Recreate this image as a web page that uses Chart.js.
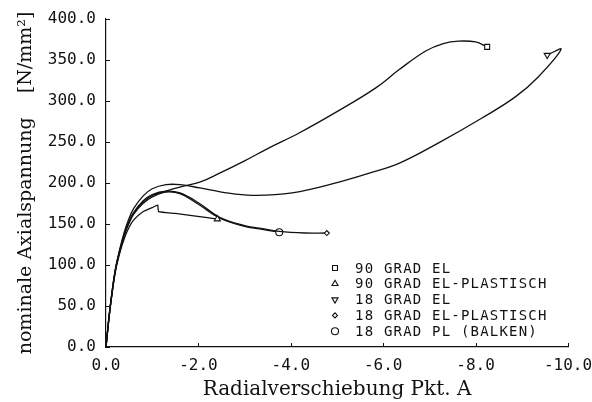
<!DOCTYPE html>
<html>
<head>
<meta charset="utf-8">
<script src="https://cdn.jsdelivr.net/npm/chart.js@4.4.0/dist/chart.umd.min.js"></script>
<style>
    html, body { margin: 0; padding: 0; background: #fff; }
    #chart_div { width: 592px; height: 402px; }
</style>
</head>
<body>
<div id="chart_div"><canvas id="chart_cnv" width="592" height="402"></canvas></div>
<script>
// series (x: radial displacement, y: nominal axial stress)
const series_names = ["90 GRAD EL", "90 GRAD EL-PLASTISCH", "18 GRAD EL", "18 GRAD EL-PLASTISCH", "18 GRAD PL (BALKEN)"];

const grad90_el_x = [0, -0.05, -0.1, -0.2, -0.3, -0.4, -0.5, -0.6, -0.8, -1.0, -1.3, -1.6, -2.03, -2.46, -3.0, -3.5, -4.18, -5.0, -5.84, -6.34, -6.92, -7.3, -7.63, -8.0, -8.25];
const grad90_el_y = [0, 28, 52, 92, 117, 137, 151, 162, 175, 183, 190, 195, 201, 212, 227, 242, 261, 287, 316, 338, 361, 370, 373, 372, 366];

const grad90_pl_x = [0, -0.05, -0.1, -0.2, -0.3, -0.4, -0.5, -0.6, -0.8, -1.0, -1.12, -1.14, -1.5, -1.9, -2.41];
const grad90_pl_y = [0, 28, 52, 91, 115, 133, 146, 155, 165, 170, 173, 165, 163, 160, 156];

const grad18_el_x = [0, -0.05, -0.1, -0.2, -0.3, -0.4, -0.5, -0.6, -0.8, -1.0, -1.3, -1.6, -2.03, -2.5, -3.17, -4.03, -5.04, -5.7, -6.34, -7.2, -8.13, -8.86, -9.35, -9.85, -9.55];
const grad18_el_y = [0, 29, 54, 94, 120, 141, 157, 169, 184, 193, 198, 198, 194, 189, 185, 188, 201, 212, 224, 249, 279, 305, 329, 363, 356];

const grad18_pl_x = [0, -0.05, -0.1, -0.2, -0.3, -0.4, -0.5, -0.6, -0.8, -1.0, -1.3, -1.6, -2.0, -2.46, -3.0, -3.32, -3.75, -4.3, -4.78];
const grad18_pl_y = [0, 28, 53, 93, 118, 138, 153, 164, 178, 186, 190, 188, 176, 158, 148, 145, 141, 139, 139];

const balken_x = [0, -0.05, -0.1, -0.2, -0.3, -0.4, -0.5, -0.6, -0.8, -1.0, -1.3, -1.6, -2.0, -2.46, -3.0, -3.32, -3.75];
const balken_y = [0, 28, 53, 93, 118, 138, 153, 164, 177, 185, 189, 187, 174, 157, 147, 144, 140];

const marker_styles = ["rect", "triangle", "triangle", "rectRot", "circle"];
const marker_rotations = [0, 0, 180, 0, 0];
const marker_sizes = [3.5, 3.5, 3.5, 2.5, 3.5];

const x_tick_values = [0, -2, -4, -6, -8, -10];
const y_tick_values = [0, 50, 100, 150, 200, 250, 300, 350, 400];

const all_x = [grad90_el_x, grad90_pl_x, grad18_el_x, grad18_pl_x, balken_x];
const all_y = [grad90_el_y, grad90_pl_y, grad18_el_y, grad18_pl_y, balken_y];
const tensions = [0.4, 0.15, 0.4, 0.4, 0.4];

const plot_font = '"DejaVu Sans Mono", monospace';
const title_font = '"DejaVu Serif", serif';

let datasets = [];
for (let i = 0; i < series_names.length; i++) {
    let points = [];
    for (let k = 0; k < all_x[i].length; k++) {
        points.push({x: all_x[i][k], y: all_y[i][k]});
    }
    const last = points.length - 1;
    datasets.push({
        "label": series_names[i],
        "data": points,
        "showLine": true,
        "borderColor": "#111",
        "borderWidth": 1.3,
        "tension": tensions[i],
        "pointStyle": marker_styles[i],
        "pointRotation": marker_rotations[i],
        "pointRadius": function (ctx) { return ctx.dataIndex === last ? marker_sizes[i] : 0; },
        "pointBackgroundColor": "#fff",
        "pointBorderColor": "#111",
        "pointBorderWidth": 1.1
    });
}

// small inward ticks on both axes and the legend inside the plot
const axis_decor_plugin = {
    id: "axis_decor",
    afterDraw(chart) {
        const ctx = chart.ctx;
        const x_scale = chart.scales.x;
        const y_scale = chart.scales.y;
        ctx.save();
        ctx.strokeStyle = "#111";
        ctx.lineWidth = 1;
        y_tick_values.forEach(function (v) {
            const py = Math.round(y_scale.getPixelForValue(v)) + 0.5;
            ctx.beginPath();
            ctx.moveTo(x_scale.left, py);
            ctx.lineTo(x_scale.left + 4, py);
            ctx.stroke();
        });
        x_tick_values.forEach(function (v) {
            const px = Math.round(x_scale.getPixelForValue(v)) + 0.5;
            ctx.beginPath();
            ctx.moveTo(px, y_scale.bottom);
            ctx.lineTo(px, y_scale.bottom - 4);
            ctx.stroke();
        });

        ctx.font = "14px " + plot_font;
        ctx.letterSpacing = "1.2px";
        ctx.textBaseline = "middle";
        ctx.textAlign = "left";
        series_names.forEach(function (name, i) {
            const row_y = 268 + i * 15.8;
            ctx.fillStyle = "#fff";
            ctx.strokeStyle = "#111";
            ctx.lineWidth = 1.1;
            Chart.helpers.drawPoint(ctx, {
                pointStyle: marker_styles[i],
                rotation: marker_rotations[i],
                radius: marker_sizes[i],
                borderWidth: 1.1
            }, 335, row_y);
            ctx.fillStyle = "#111";
            ctx.fillText(name, 355, row_y + 1);
        });
        ctx.restore();
    }
};

const chart = new Chart(document.getElementById("chart_cnv").getContext("2d"), {
    "type": "scatter",
    "data": {"datasets": datasets},
    "options": {
        "responsive": false,
        "devicePixelRatio": 1,
        "animation": false,
        "layout": {"padding": {"top": 19, "right": 24, "left": 0, "bottom": 0}},
        "plugins": {
            "legend": {"display": false},
            "tooltip": {"enabled": false}
        },
        "scales": {
            "x": {
                "type": "linear",
                "min": -10,
                "max": 0,
                "reverse": true,
                "afterBuildTicks": function (scale) {
                    scale.ticks = x_tick_values.map(function (v) { return {value: v}; });
                },
                "afterFit": function (scale) {
                    scale.height = 55;
                    scale.paddingLeft = 0;
                    scale.paddingRight = 0;
                },
                "grid": {"display": false, "drawTicks": false},
                "border": {"display": true, "color": "#111", "width": 1.2},
                "ticks": {
                    "color": "#111",
                    "padding": 9,
                    "maxRotation": 0,
                    "font": {"family": plot_font, "size": 16},
                    "callback": function (v) { return v.toFixed(1); }
                },
                "title": {
                    "display": true,
                    "text": "Radialverschiebung Pkt. A",
                    "color": "#111",
                    "padding": {"top": 0, "bottom": 0},
                    "font": {"family": title_font, "size": 20}
                }
            },
            "y": {
                "type": "linear",
                "min": 0,
                "max": 400,
                "afterBuildTicks": function (scale) {
                    scale.ticks = y_tick_values.map(function (v) { return {value: v}; });
                },
                "afterFit": function (scale) {
                    scale.width = 106;
                    scale.paddingTop = 0;
                    scale.paddingBottom = 0;
                },
                "grid": {"display": false, "drawTicks": false},
                "border": {"display": true, "color": "#111", "width": 1.2},
                "ticks": {
                    "color": "#111",
                    "padding": 10,
                    "font": {"family": plot_font, "size": 16},
                    "callback": function (v) { return v.toFixed(1); }
                },
                "title": {
                    "display": true,
                    "text": "nominale Axialspannung    [N/mm²]",
                    "color": "#111",
                    "padding": {"top": 15, "bottom": 0},
                    "font": {"family": title_font, "size": 19}
                }
            }
        }
    },
    "plugins": [axis_decor_plugin]
});
</script>
</body>
</html>
